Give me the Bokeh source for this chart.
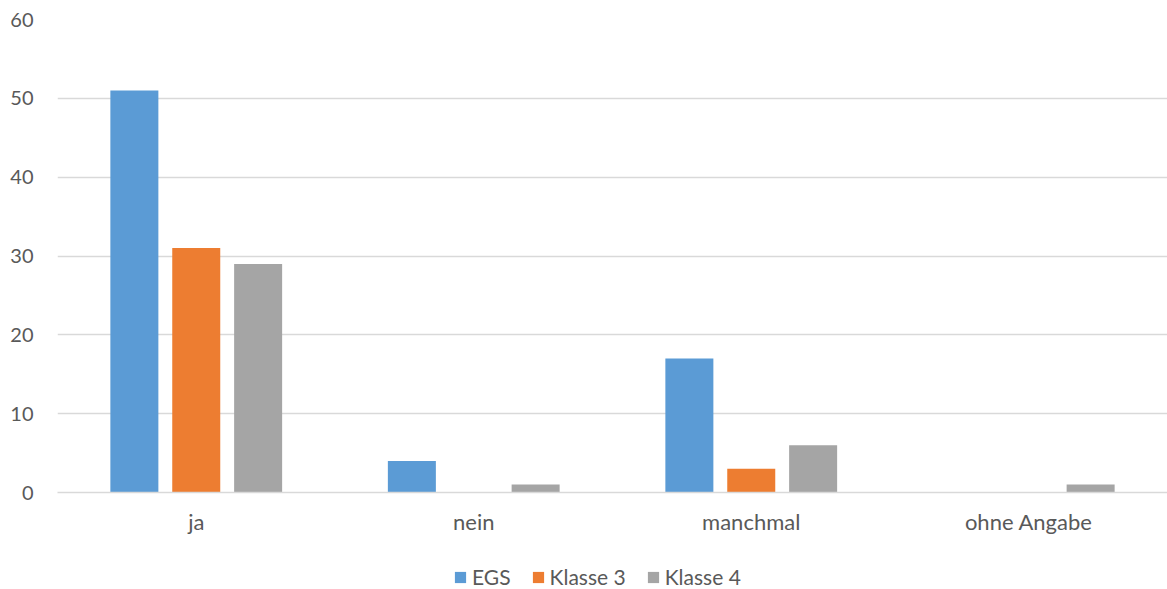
from bokeh.plotting import figure
from bokeh.layouts import column
from bokeh.models import ColumnDataSource, FactorRange, Range1d, Legend, LegendItem, SingleIntervalTicker
from bokeh.transform import dodge
from bokeh.embed import file_html
from bokeh.resources import INLINE

categories = ["ja", "nein", "manchmal", "ohne Angabe"]
series_names = ["EGS", "Klasse 3", "Klasse 4"]
egs = [51, 4, 17, 0]
klasse3 = [31, 0, 3, 0]
klasse4 = [29, 1, 6, 1]
colors = ["#5B9BD5", "#ED7D31", "#A5A5A5"]

source = ColumnDataSource(dict(cat=categories, egs=egs, k3=klasse3, k4=klasse4))

FONT = "Lato"
TXT = "#595959"

p = figure(x_range=FactorRange(*categories, range_padding=0), y_range=Range1d(0, 60),
           width=1167, height=538, output_backend="svg", toolbar_location=None,
           min_border_left=57, min_border_right=0, min_border_top=19, min_border_bottom=46)
p.outline_line_color = None
p.background_fill_color = "white"

offs = [-0.223, 0.0, 0.223]
for col, off, c in zip(["egs", "k3", "k4"], offs, colors):
    p.vbar(x=dodge("cat", off, range=p.x_range), top=col, width=0.173, source=source,
           fill_color=c, line_color=None)

p.xgrid.grid_line_color = None
p.ygrid.grid_line_color = "#d9d9d9"
p.ygrid.grid_line_width = 1.5
p.yaxis.ticker = SingleIntervalTicker(interval=10)
p.yaxis.axis_line_color = None
p.yaxis.major_tick_line_color = None
p.yaxis.minor_tick_line_color = None
p.yaxis.major_label_text_font = FONT
p.yaxis.major_label_text_font_size = "20px"
p.yaxis.major_label_text_color = TXT
p.yaxis.major_label_standoff = 18

p.xaxis.axis_line_color = "#d9d9d9"
p.xaxis.axis_line_width = 1.5
p.xaxis.major_tick_line_color = None
p.xaxis.minor_tick_line_color = None
p.xaxis.major_label_text_font = FONT
p.xaxis.major_label_text_font_size = "22px"
p.xaxis.major_label_text_color = TXT
p.xaxis.major_label_standoff = 9

# legend strip below the chart
lg = figure(width=1167, height=51, output_backend="svg", toolbar_location=None,
            x_range=Range1d(0, 1), y_range=Range1d(0, 1),
            min_border_left=0, min_border_right=0, min_border_top=0, min_border_bottom=0)
lg.outline_line_color = None
lg.axis.visible = False
lg.grid.visible = False
dummy = []
for c in colors:
    r = lg.vbar(x=[10], top=[1], width=0.1, fill_color=c, line_color=None)
    dummy.append(r)

legend = Legend(items=[LegendItem(label=n, renderers=[r]) for n, r in zip(series_names, dummy)],
                orientation="horizontal", location=(396, 0),
                label_text_font=FONT, label_text_font_size="21px", label_text_color=TXT,
                glyph_width=14, glyph_height=14, spacing=20, label_standoff=5,
                border_line_color=None, background_fill_alpha=0, margin=0, padding=0)
lg.add_layout(legend, "center")

layout = column(p, lg, spacing=0)
open("out.html", "w").write(file_html(layout, INLINE))
